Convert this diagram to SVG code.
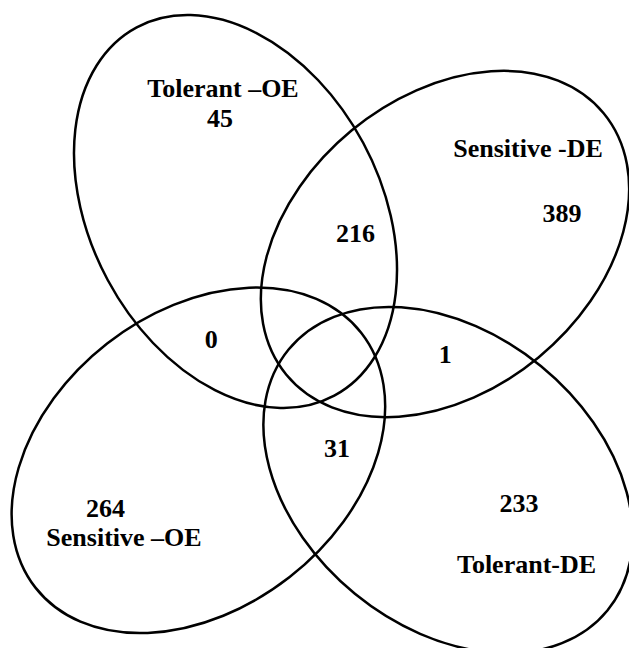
<svg xmlns="http://www.w3.org/2000/svg" width="629" height="648" viewBox="0 0 629 648">
<style>
.set{fill:none;stroke:#000;stroke-width:2.5}
.lbl{font-family:"Liberation Serif","Times New Roman",serif;font-weight:bold;font-size:26px;fill:#000;text-anchor:middle}
</style>
<rect width="629" height="648" fill="#fff"/>
<g id="tolerant-oe">
<ellipse class="set" cx="235.5" cy="211.5" rx="209" ry="145" transform="rotate(61.8 235.5 211.5)"/>
<text class="lbl" x="223" y="97">Tolerant –OE</text>
<text class="lbl" x="220" y="127">45</text>
</g>
<g id="sensitive-de">
<ellipse class="set" cx="445" cy="244" rx="205.6" ry="147" transform="rotate(-39.5 445 244)"/>
<text class="lbl" x="528" y="157">Sensitive -DE</text>
<text class="lbl" x="562" y="222">389</text>
</g>
<g id="sensitive-oe">
<ellipse class="set" cx="198.4" cy="460.3" rx="206.8" ry="148.2" transform="rotate(-38 198.4 460.3)"/>
<text class="lbl" x="105.5" y="517">264</text>
<text class="lbl" x="124" y="546">Sensitive –OE</text>
</g>
<g id="tolerant-de">
<ellipse class="set" cx="448" cy="480" rx="206" ry="147" transform="rotate(39.3 448 480)"/>
<text class="lbl" x="519" y="512">233</text>
<text class="lbl" x="526.5" y="573">Tolerant-DE</text>
</g>
<g id="overlaps">
<text class="lbl" x="355.5" y="242">216</text>
<text class="lbl" x="211.3" y="348">0</text>
<text class="lbl" x="445.3" y="363">1</text>
<text class="lbl" x="337" y="457">31</text>
</g>
<g id="connectors"/>
</svg>
